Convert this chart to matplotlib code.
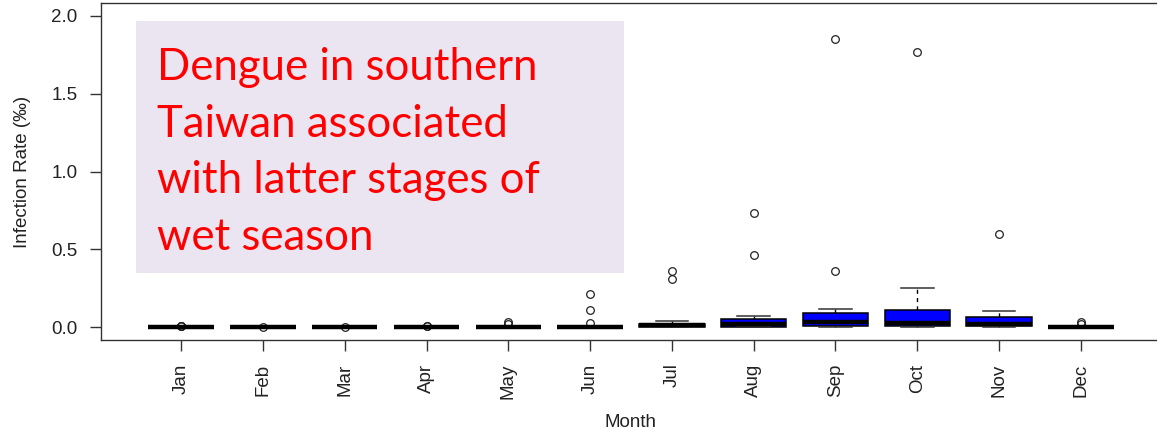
import matplotlib
matplotlib.use("Agg")
import matplotlib.pyplot as plt
from matplotlib.patches import Rectangle

plt.rcParams["font.family"] = ["Liberation Sans", "DejaVu Sans"]

# monthly infection rate summaries (per mille)
months = ["Jan", "Feb", "Mar", "Apr", "May", "Jun",
          "Jul", "Aug", "Sep", "Oct", "Nov", "Dec"]
q1 = [0, 0, 0, 0, 0, 0, 0.0, 0.002, 0.006, 0.005, 0.006, 0]
med = [0, 0, 0, 0, 0, 0, 0.012, 0.017, 0.030, 0.024, 0.020, 0]
q3 = [0, 0, 0, 0, 0, 0, 0.022, 0.050, 0.088, 0.109, 0.066, 0]
whislo = [0, 0, 0, 0, 0, 0, 0, 0, 0, 0, 0, 0]
whishi = [0, 0, 0, 0, 0, 0, 0.040, 0.070, 0.118, 0.249, 0.100, 0]
fliers = [
    [0.004, 0.006, 0.009],
    [0.002],
    [0.002],
    [0.004, 0.007],
    [0.020, 0.030],
    [0.025, 0.11, 0.21],
    [0.31, 0.36],
    [0.46, 0.73],
    [0.36, 1.85],
    [1.77],
    [0.60],
    [0.020, 0.032],
]

note_lines = ["Dengue in southern", "Taiwan associated",
              "with latter stages of", "wet season"]

stats = []
for i, m in enumerate(months):
    stats.append(dict(label=m, q1=q1[i], med=med[i], q3=q3[i],
                      whislo=whislo[i], whishi=whishi[i], fliers=fliers[i]))

fig = plt.figure(figsize=(11.57, 4.38), dpi=100)
ax = fig.add_axes([101 / 1157, 1 - 340 / 438, 1060 / 1157, 337 / 438])

ax.bxp(stats, positions=range(1, 13), widths=0.8, capwidths=0.4,
       patch_artist=True, showfliers=True,
       boxprops=dict(facecolor="#0000ff", edgecolor="black", linewidth=1.1),
       medianprops=dict(color="black", linewidth=3.2, solid_capstyle="butt"),
       whiskerprops=dict(color="black", linewidth=1.0, linestyle=(0, (3, 3))),
       capprops=dict(color="#333333", linewidth=1.1),
       flierprops=dict(marker="o", markerfacecolor="none",
                       markeredgecolor="#222222", markersize=5.5,
                       markeredgewidth=0.9))

ax.set_xlim(0.02, 12.98)
ax.set_ylim(-0.0836, 2.0836)
ax.set_yticks([0.0, 0.5, 1.0, 1.5, 2.0])
ax.set_yticklabels(["0.0", "0.5", "1.0", "1.5", "2.0"])
ax.set_xticks(range(1, 13))
ax.set_xticklabels(months, rotation=90)
ax.tick_params(axis="both", direction="out", length=8, width=1,
               color="#333333", labelsize=13.5, labelcolor="#222222", pad=9)

for sp in ax.spines.values():
    sp.set_color("#333333")
    sp.set_linewidth(1.0)

ax.set_xlabel("Month", fontsize=13.5, color="#222222")
ax.xaxis.label.set_va("center")
ax.xaxis.set_label_coords(0.5, -0.245)
ax.set_ylabel("Infection Rate (\u2030)", fontsize=13.5, color="#222222")
ax.yaxis.label.set_va("center")
ax.yaxis.set_label_coords(-0.0745, 0.5)

# shaded annotation panel
fig.patches.append(Rectangle((136 / 1157, 1 - 273 / 438), 488 / 1157, 252 / 438,
                             transform=fig.transFigure, facecolor="#eae5f0",
                             edgecolor="none", zorder=5))
for k, line in enumerate(note_lines):
    fig.text(157 / 1157, 1 - (80 + 56.7 * k) / 438, line, fontsize=31.5,
             family="Lato", color="#ff0000", va="baseline", ha="left",
             zorder=6)

fig.savefig("out.png", dpi=100)
